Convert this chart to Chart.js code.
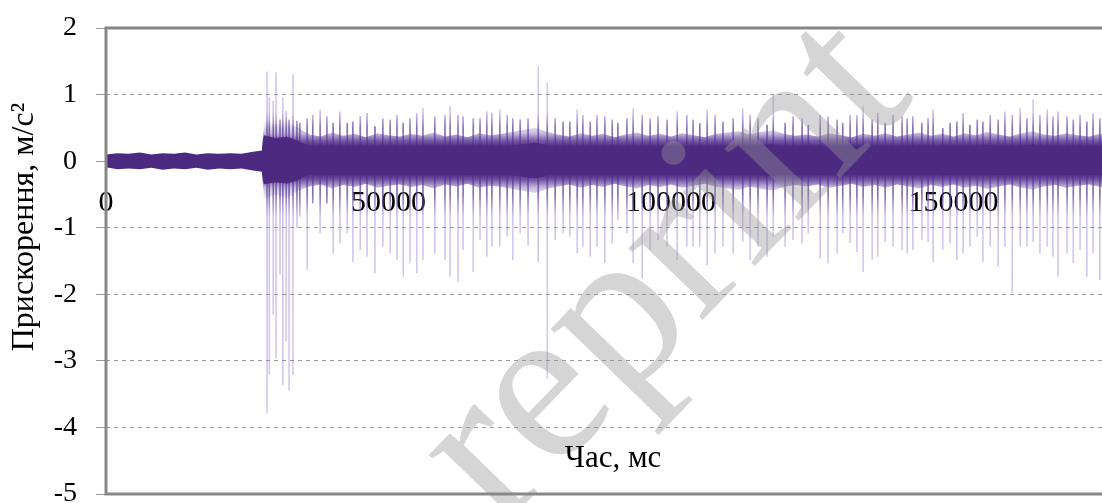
<!DOCTYPE html>
<html>
<head>
<meta charset="utf-8">
<script src="https://cdn.jsdelivr.net/npm/chart.js@4.4.1/dist/chart.umd.min.js"></script>
<style>
  html, body { margin: 0; padding: 0; background: #fff; overflow: hidden; }
  #wrap { width: 1102px; height: 503px; overflow: hidden; }
  canvas { display: block; }
</style>
</head>
<body>
<div id="wrap"><canvas id="chart" width="1130" height="503"></canvas></div>
<script>
const xTitle = 'Час, мс';
const yTitle = 'Прискорення, м/с²';
const yTicks = [2, 1, 0, -1, -2, -3, -4, -5];
const xTickLabels = [0, 50000, 100000, 150000];

// envelope of the dense vibration band (ms, m/s²)
const bandT = [
  0, 2000, 4000, 6000, 8000, 10000, 12000, 14000, 16000, 18000, 20000, 22000, 24000, 26000,
  27600, 28000, 30000, 32000, 34000,
  36000, 38000, 40000, 42000, 44000, 46000, 48000, 50000, 52000, 54000,
  56000, 58000, 60000, 62000, 64000, 66000, 68000, 70000, 72000, 74000,
  76000, 78000, 80000, 82000, 84000, 86000, 88000, 90000, 92000, 94000,
  96000, 98000, 100000, 102000, 104000, 106000, 108000, 110000, 112000, 114000,
  116000, 118000, 120000, 122000, 124000, 126000, 128000, 130000, 132000, 134000,
  136000, 138000, 140000, 142000, 144000, 146000, 148000, 150000, 152000, 154000,
  156000, 158000, 160000, 162000, 164000, 166000, 168000, 170000, 172000, 174000,
  176000, 178000, 180000
];
// outer fuzzy edge of the band
const outerHi = [
  0.1, 0.12, 0.11, 0.13, 0.1, 0.12, 0.11, 0.13, 0.1, 0.12, 0.11, 0.12, 0.11, 0.14,
  0.16, 0.62, 0.55, 0.6, 0.5,
  0.4, 0.37, 0.43, 0.38, 0.41, 0.36, 0.42, 0.39, 0.37, 0.41,
  0.38, 0.43, 0.37, 0.4, 0.36, 0.42, 0.39, 0.41, 0.44, 0.47,
  0.5, 0.44, 0.4, 0.37, 0.42, 0.38, 0.41, 0.36, 0.4, 0.43,
  0.38, 0.41, 0.37, 0.42, 0.39, 0.36, 0.41, 0.43, 0.45, 0.4,
  0.44, 0.46, 0.41, 0.38, 0.4, 0.37, 0.42, 0.39, 0.36, 0.41,
  0.38, 0.42, 0.37, 0.4, 0.43, 0.38, 0.41, 0.37, 0.42, 0.39,
  0.44, 0.4, 0.37, 0.42, 0.45, 0.4, 0.38, 0.42, 0.39, 0.37,
  0.41, 0.39, 0.38
];
const outerLo = [
  -0.09, -0.12, -0.11, -0.12, -0.1, -0.13, -0.11, -0.12, -0.1, -0.13, -0.11, -0.12, -0.11, -0.14,
  -0.16, -0.58, -0.5, -0.56, -0.45,
  -0.38, -0.35, -0.41, -0.36, -0.39, -0.34, -0.4, -0.37, -0.35, -0.39,
  -0.36, -0.41, -0.35, -0.38, -0.34, -0.4, -0.37, -0.39, -0.42, -0.45,
  -0.48, -0.42, -0.38, -0.35, -0.4, -0.36, -0.39, -0.34, -0.38, -0.41,
  -0.36, -0.39, -0.35, -0.4, -0.37, -0.34, -0.39, -0.41, -0.43, -0.38,
  -0.42, -0.44, -0.39, -0.36, -0.38, -0.35, -0.4, -0.37, -0.34, -0.39,
  -0.36, -0.4, -0.35, -0.38, -0.41, -0.36, -0.39, -0.35, -0.4, -0.37,
  -0.42, -0.38, -0.35, -0.4, -0.43, -0.38, -0.36, -0.4, -0.37, -0.35,
  -0.39, -0.37, -0.36
];
// solid dark core of the band
const innerHi = [
  0.05, 0.07, 0.06, 0.08, 0.06, 0.07, 0.06, 0.08, 0.06, 0.07, 0.06, 0.06, 0.07, 0.08,
  0.1, 0.38, 0.34, 0.36, 0.3,
  0.21, 0.19, 0.23, 0.18, 0.2, 0.22, 0.19, 0.21, 0.18, 0.2,
  0.22, 0.19, 0.21, 0.18, 0.2, 0.23, 0.19, 0.21, 0.22, 0.25,
  0.27, 0.23, 0.2, 0.19, 0.21, 0.18, 0.2, 0.22, 0.19, 0.21,
  0.18, 0.2, 0.22, 0.19, 0.21, 0.2, 0.18, 0.22, 0.24, 0.21,
  0.23, 0.25, 0.21, 0.19, 0.2, 0.18, 0.21, 0.2, 0.18, 0.21,
  0.19, 0.22, 0.18, 0.2, 0.23, 0.19, 0.21, 0.18, 0.2, 0.22,
  0.24, 0.21, 0.19, 0.22, 0.24, 0.2, 0.19, 0.22, 0.2, 0.18,
  0.21, 0.2, 0.19
];
const innerLo = [
  -0.05, -0.07, -0.06, -0.07, -0.06, -0.08, -0.06, -0.07, -0.06, -0.08, -0.06, -0.06, -0.07, -0.08,
  -0.1, -0.34, -0.31, -0.33, -0.28,
  -0.18, -0.16, -0.2, -0.17, -0.19, -0.16, -0.2, -0.18, -0.16, -0.19,
  -0.17, -0.19, -0.16, -0.18, -0.2, -0.17, -0.19, -0.16, -0.2, -0.23,
  -0.25, -0.21, -0.18, -0.19, -0.16, -0.19, -0.17, -0.19, -0.16, -0.18,
  -0.19, -0.17, -0.19, -0.16, -0.2, -0.18, -0.16, -0.19, -0.21, -0.18,
  -0.2, -0.22, -0.19, -0.16, -0.18, -0.2, -0.17, -0.19, -0.16, -0.18,
  -0.19, -0.17, -0.19, -0.16, -0.2, -0.18, -0.21, -0.19, -0.16, -0.19,
  -0.17, -0.2, -0.18, -0.16, -0.19, -0.21, -0.18, -0.2, -0.17, -0.19,
  -0.2, -0.18, -0.19
];

// individual impact spikes: time, peak up, peak down
const spikeT = [
  28500, 28900, 29600, 30100, 30800, 31300, 31900, 32400, 33100, 33800,
  34300, 35600, 36600, 37900, 39100, 40200, 41400, 42700, 43700, 45000,
  46200, 47600, 49000, 50300, 51500, 52600, 53800, 55000, 56100,
  58200, 60000, 60900, 62300, 63200, 65000, 66200, 67400, 68300, 69700,
  71000, 72000, 73300, 74700, 76500, 78100, 79500, 80900, 82100, 83400,
  84400, 85700, 86900,
  88300, 89600, 90600, 92200, 93300, 94900, 96300, 97700, 99300, 101100,
  102800, 103900, 105100, 106400, 107800, 109200, 111000, 112700, 114000, 115400,
  117000,
  118100, 120200, 121600, 123200, 124300, 126400, 127800, 129400, 130400, 131700,
  132900, 134000, 135600, 136600, 137900, 139300, 140900, 141800, 142800, 144400,
  145500, 146400,
  148100, 149400, 150600, 151700, 152900, 154200, 155200, 156500, 157900, 159100,
  160400, 161800, 163000, 164100, 165300, 166600, 167600, 168500, 170100, 171200,
  172400, 173600, 174700, 175900
];
const spikeHi = [
  1.34, 0.95, 0.9, 1.33, 0.62, 0.95, 0.75, 0.62, 1.3, 0.6,
  0.57, 0.64, 0.69, 0.77, 0.67, 0.57, 0.74, 0.57, 0.59, 0.67,
  0.72, 0.52, 0.64, 0.62, 0.69, 0.57, 0.64, 0.72, 0.79,
  0.67, 0.69, 0.82, 0.69, 0.67, 0.64, 0.64, 0.74, 0.72, 0.77,
  0.69, 0.64, 0.62, 0.64, 1.42, 1.17, 0.64, 0.59, 0.59, 0.77,
  0.69, 0.59, 0.69,
  0.67, 0.62, 0.57, 0.64, 0.79, 0.69, 0.64, 0.67, 0.62, 0.74,
  0.69, 0.62, 0.57, 0.77, 0.69, 0.59, 0.64, 0.79, 0.69, 0.64,
  0.54,
  0.99, 0.57, 0.67, 0.64, 0.54, 0.69, 0.67, 0.62, 0.57, 0.69,
  0.69, 0.82, 0.62, 0.72, 0.57, 0.69, 0.67, 0.64, 0.67, 0.57,
  0.64, 0.77,
  0.49, 0.57, 0.59, 0.72, 0.54, 0.62, 0.59, 0.69, 0.62, 0.74,
  0.69, 0.79, 0.64, 0.92, 0.69, 0.77, 0.67, 0.74, 0.67, 0.62,
  0.69, 0.59, 0.72, 0.64
];
const spikeLo = [
  -3.78, -3.2, -2.3, -2.96, -1.7, -3.36, -2.7, -3.44, -3.21, -1.0,
  -0.83, -1.63, -0.63, -1.08, -0.63, -1.38, -1.23, -1.08, -1.51, -1.33,
  -1.43, -1.68, -1.28, -1.38, -1.48, -1.73, -1.53, -1.68, -1.48,
  -1.38, -1.48, -1.73, -1.81, -1.33, -1.66, -1.18, -1.43, -1.28, -1.28,
  -1.13, -1.48, -1.08, -1.26, -1.51, -3.26, -1.18, -1.08, -1.13, -1.38,
  -1.28, -1.43, -1.28,
  -1.53, -1.23, -0.88, -1.08, -1.53, -1.76, -1.33, -1.18, -1.28, -1.48,
  -1.28, -1.28, -1.28, -1.56, -1.38, -1.28, -1.38, -1.21, -1.48, -1.28,
  -1.43,
  -1.13, -1.28, -1.18, -1.23, -1.08, -1.46, -1.53, -1.38, -1.08, -1.23,
  -1.36, -1.66, -1.48, -1.43, -1.21, -1.28, -1.33, -1.38, -1.33, -1.18,
  -1.21, -1.51,
  -1.33, -1.23, -1.48, -1.38, -1.28, -1.13, -1.51, -1.28, -1.58, -1.28,
  -1.98, -1.28, -1.28, -1.21, -1.38, -1.28, -1.43, -1.73, -1.38, -1.53,
  -1.33, -1.73, -1.38, -1.78
];

const serif = "'Liberation Serif', 'Times New Roman', serif";
const purple = '#4c2a80';

const pts = ys => bandT.map((t, i) => ({ x: t, y: ys[i] }));

// vertical gradient in value space, stops given as [value, colour]
function valueGradient(chart, stops, fallback) {
  const y = chart.scales.y;
  if (!y || !chart.chartArea) return fallback;
  const g = chart.ctx.createLinearGradient(0, y.getPixelForValue(2), 0, y.getPixelForValue(-5));
  stops.forEach(([v, c]) => g.addColorStop((2 - v) / 7, c));
  return g;
}

const fringeColor = ctx => valueGradient(ctx.chart, [
  [2, 'rgba(100,70,165,0)'],
  [0.58, 'rgba(100,70,165,0.05)'],
  [0.42, 'rgba(96,64,160,0.35)'],
  [0.31, 'rgba(86,52,146,0.8)'],
  [0.22, 'rgba(76,42,128,1)'],
  [-0.2, 'rgba(76,42,128,1)'],
  [-0.29, 'rgba(86,52,146,0.8)'],
  [-0.4, 'rgba(96,64,160,0.35)'],
  [-0.56, 'rgba(100,70,165,0.05)'],
  [-5, 'rgba(100,70,165,0)'],
], 'rgba(86,52,146,0.7)');

// spikes: darker close to the band, pale lavender further out
const spikeColor = ctx => valueGradient(ctx.chart, [
  [2, 'rgba(150,120,210,0.38)'],
  [0.75, 'rgba(150,120,210,0.42)'],
  [0.5, 'rgba(95,60,155,0.75)'],
  [-0.5, 'rgba(95,60,155,0.75)'],
  [-0.85, 'rgba(150,120,210,0.42)'],
  [-5, 'rgba(150,120,210,0.38)'],
], 'rgba(140,105,200,0.45)');

const framePlugin = {
  id: 'frame',
  afterDraw(chart) {
    const { ctx, chartArea: a } = chart;
    // watermark
    ctx.save();
    ctx.translate(500, 530);
    ctx.rotate(-46 * Math.PI / 180);
    ctx.font = `225px ${serif}`;
    ctx.fillStyle = 'rgba(150,150,150,0.4)';
    ctx.fillText('reprint', 0, 0);
    ctx.restore();

    ctx.save();
    ctx.strokeStyle = '#878787';
    ctx.lineWidth = 3;
    ctx.beginPath();
    ctx.moveTo(a.right + 3, a.top);
    ctx.lineTo(a.left, a.top);
    ctx.lineTo(a.left, a.bottom);
    ctx.lineTo(a.right + 3, a.bottom);
    ctx.stroke();

    ctx.fillStyle = '#000';
    ctx.textAlign = 'center';
    ctx.textBaseline = 'alphabetic';
    ctx.font = `31px ${serif}`;
    ctx.fillText(xTitle, 613, 467);
    ctx.translate(33, 227);
    ctx.rotate(-Math.PI / 2);
    ctx.font = `32px ${serif}`;
    ctx.fillText(yTitle, 0, 0);
    ctx.restore();
  }
};

new Chart(document.getElementById('chart'), {
  type: 'line',
  data: {
    datasets: [
      {
        label: 'core',
        data: pts(innerHi),
        borderColor: purple,
        backgroundColor: purple,
        borderWidth: 1,
        pointRadius: 0,
        fill: '+1',
        order: 1,
      },
      {
        label: 'core-lo',
        data: pts(innerLo),
        borderColor: purple,
        borderWidth: 1,
        pointRadius: 0,
        fill: false,
        order: 1,
      },
      {
        label: 'band',
        data: pts(outerHi),
        borderWidth: 0,
        backgroundColor: fringeColor,
        pointRadius: 0,
        fill: '+1',
        order: 2,
      },
      {
        label: 'band-lo',
        data: pts(outerLo),
        borderWidth: 0,
        pointRadius: 0,
        fill: false,
        order: 2,
      },
      {
        type: 'bar',
        label: 'spikes',
        data: spikeT.map((t, i) => ({ x: t, y: [spikeLo[i], spikeHi[i]] })),
        backgroundColor: spikeColor,
        barThickness: 1,
        order: 3,
      },
    ],
  },
  options: {
    responsive: false,
    animation: false,
    layout: { padding: { left: 0, right: 7, top: 28, bottom: 9 } },
    plugins: { legend: { display: false }, tooltip: { enabled: false } },
    scales: {
      x: {
        type: 'linear',
        min: 0,
        max: 180000,
        offset: false,
        position: { y: 0 },
        afterFit: s => { s.height = 0; },
        afterBuildTicks: s => { s.ticks = xTickLabels.map(v => ({ value: v })); },
        grid: { display: false, drawTicks: false },
        border: { display: false },
        ticks: {
          padding: 24,
          color: '#000',
          font: { family: serif, size: 30 },
          maxRotation: 0,
          autoSkip: false,
          callback: v => String(v),
        },
      },
      y: {
        min: -5,
        max: 2,
        afterFit: s => { s.width = 106; s.paddingTop = 0; s.paddingBottom = 0; },
        grid: {
          color: '#9a9a9a',
          lineWidth: 1,
          drawTicks: true,
          tickLength: 10,
          tickColor: '#9a9a9a',
        },
        border: { display: false, dash: [4, 4] },
        ticks: {
          stepSize: 1,
          padding: 19,
          color: '#000',
          font: { family: serif, size: 28 },
          callback: v => yTicks.includes(v) ? String(v) : null,
        },
      },
    },
  },
  plugins: [framePlugin],
});
</script>
</body>
</html>
